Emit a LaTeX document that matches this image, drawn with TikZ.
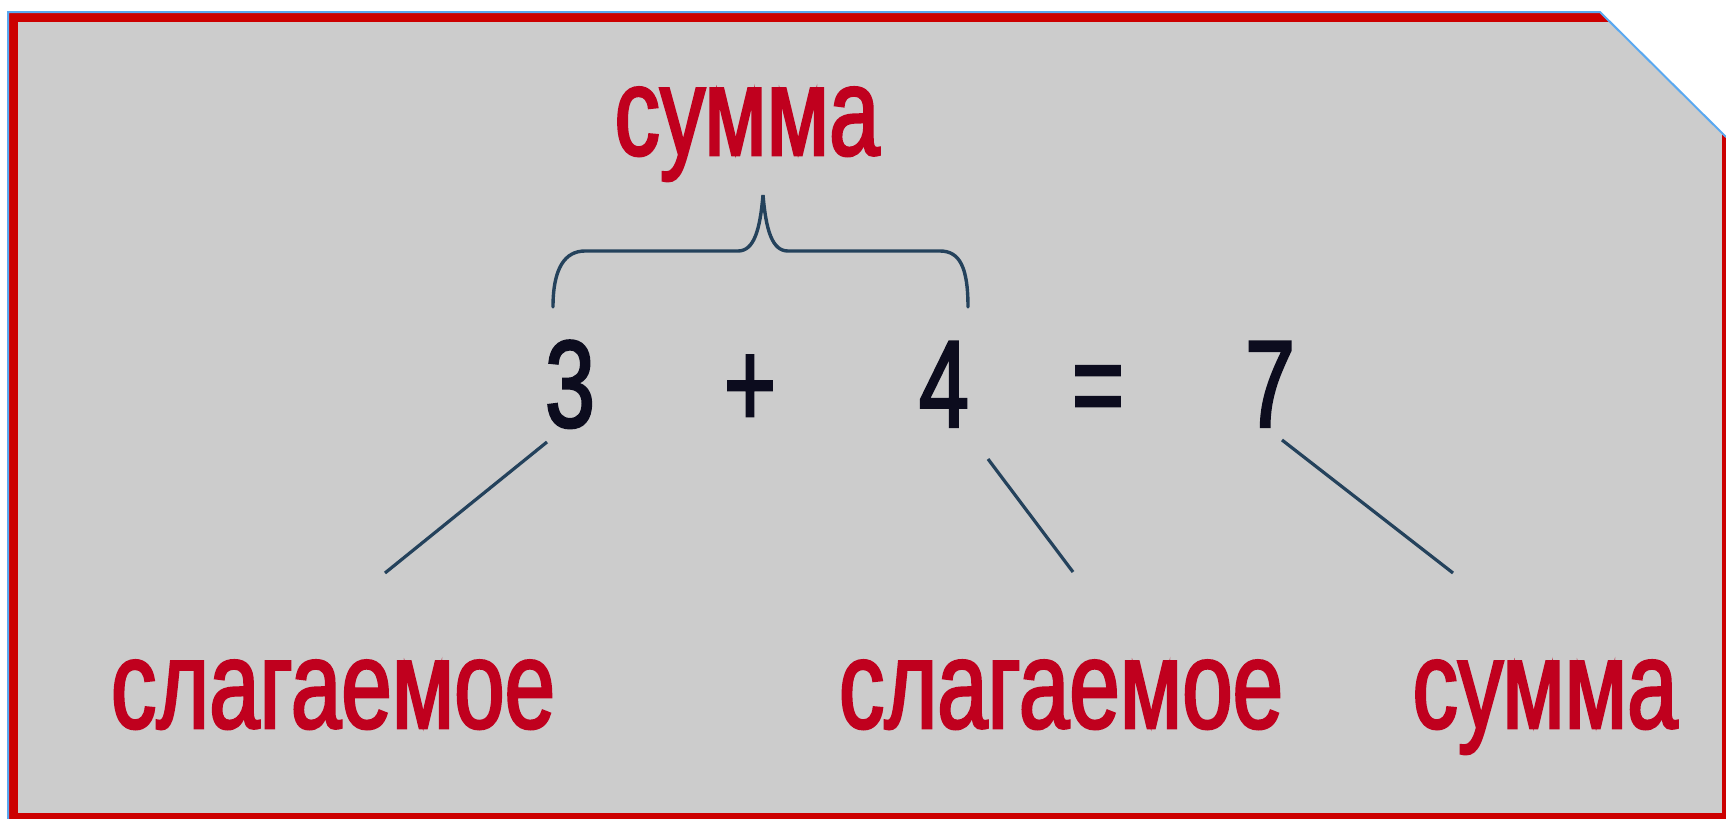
\documentclass[tikz,border=0pt]{standalone}
\usepackage{fontspec}
\newfontfamily\narrowsans[FakeStretch=0.72,FakeBold=2]{Liberation Sans}
\usepackage{tikz}
\usetikzlibrary{arrows,positioning}

\definecolor{framered}{RGB}{204,0,0}
\definecolor{paneltone}{RGB}{204,204,204}
\definecolor{edgeblue}{RGB}{90,168,240}
\definecolor{wordred}{RGB}{192,0,30}
\definecolor{digitink}{RGB}{12,12,30}
\definecolor{leadink}{RGB}{36,66,92}

\begin{document}
\begin{tikzpicture}[x=0.5pt,y=-0.5pt,
  word/.style={anchor=base,inner sep=0pt,text=wordred,font=\narrowsans\fontsize{63}{70}\selectfont},
  digit/.style={anchor=base,inner sep=0pt,text=digitink,font=\narrowsans\fontsize{62}{70}\selectfont},
  leader/.style={draw=leadink,line width=1.6pt},
  bracket/.style={draw=leadink,line width=1.7pt,line cap=round}]
\useasboundingbox (0,0) rectangle (1726,819);
\fill[white] (0,0) rectangle (1726,819);

% panel with the cut corner
\fill[paneltone] (9,13) -- (1600,13) -- (1726,138) -- (1726,819) -- (9,819) -- cycle;
\begin{scope}
\clip (9,13) -- (1600,13) -- (1726,138) -- (1726,819) -- (9,819) -- cycle;
\draw[framered,line width=9pt] (9,13) rectangle (1731,822);
\end{scope}
\draw[edgeblue,line width=1pt] (8,819) -- (8,12) -- (1600,12) -- (1726,137);

% the equation
\node[digit] (three) at (570,427) {3};
\node[digit] (plus) at (750,427) {+};
\node[digit] (four) at (944,427) {4};
\node[digit] (equals) at (1098,427) {=};
\node[digit] (seven) at (1270,427) {7};

% the names
\node[word] (sumtop) at (747,155) {сумма};
\node[word] (addendleft) at (333,728) {слагаемое};
\node[word] (addendright) at (1061,728) {слагаемое};
\node[word] (sumright) at (1545,728) {сумма};

% brace over 3 + 4
\draw[bracket] (553,307) .. controls (553,268) and (565,251) .. (585,251) -- (738,251)
  .. controls (754,251) and (760,230) .. (763,195)
  .. controls (766,230) and (772,251) .. (788,251) -- (940,251)
  .. controls (960,251) and (968,268) .. (968,307);

% leader lines
\coordinate (threeend) at (547,442);
\coordinate (addendleftend) at (385,573);
\coordinate (fourend) at (988,459);
\coordinate (addendrightend) at (1073,572);
\coordinate (sevenend) at (1282,440);
\coordinate (sumrightend) at (1453,573);
\draw[leader] (threeend) -- (addendleftend);
\draw[leader] (fourend) -- (addendrightend);
\draw[leader] (sevenend) -- (sumrightend);
\end{tikzpicture}
\end{document}
